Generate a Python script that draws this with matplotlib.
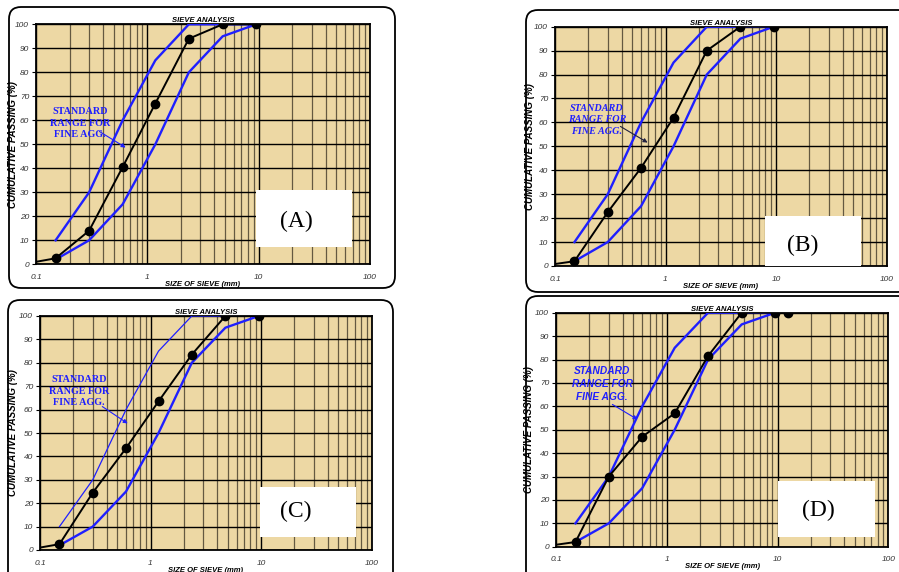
import matplotlib
matplotlib.use('Agg')
import matplotlib.pyplot as plt
from matplotlib.patches import FancyBboxPatch, Rectangle
from matplotlib.ticker import LogLocator, NullFormatter, FixedLocator, FixedFormatter

W, H = 899, 572

# sieve sizes (mm) and cumulative passing (%)
sieve = [0.075, 0.15, 0.3, 0.6, 1.18, 2.36, 4.75, 9.5]
passing_a = [0, 2.5, 14, 40.5, 67, 94, 100, 100]
passing_b = [0, 2, 22.5, 41, 62, 90, 100, 100]
passing_c = [0, 2.5, 24.5, 43.5, 63.5, 83.5, 100, 100]
sieve_d = [0.075, 0.15, 0.3, 0.6, 1.18, 2.36, 4.75, 9.5, 12.5]
passing_d = [0, 2, 30, 47, 57, 81.5, 100, 100, 100]

# standard range for fine aggregate
limit_sieve = [0.15, 0.3, 0.6, 1.18, 2.36, 4.75, 9.5]
upper_limit = [10, 30, 60, 85, 100, 100, 100]
lower_limit = [2, 10, 25, 50, 80, 95, 100]

x_ticks = [0.1, 1, 10, 100]
x_tick_labels = ['0.1', '1', '10', '100']
y_ticks = list(range(0, 101, 10))

BG = '#edd8a4'
BLUE = '#1f1fff'

panels = [
    dict(name='(A)', frame=(9, 7, 395, 288), rect=(36, 24.3, 370, 264.3),
         x=sieve, y=passing_a, box=(256, 190, 352, 247), label_xy=(296, 221),
         note_xy=(80, 123), arrow=((97, 130), (128, 149)), note_font='Liberation Serif',
         note_style='normal', arrow_color=BLUE, upper_lw=1.7, ylab_x=18),
    dict(name='(B)', frame=(526, 10, 910, 292), rect=(555, 26.7, 886.7, 266),
         x=sieve, y=passing_b, box=(765, 216, 861, 266), label_xy=(803, 245),
         note_xy=(597, 120), arrow=((618, 125), (650, 144)), note_font='Liberation Serif',
         note_style='italic', arrow_color='#202040', upper_lw=1.7, ylab_x=535),
    dict(name='(C)', frame=(8, 300, 393, 590), rect=(40, 316, 371.7, 550),
         x=sieve, y=passing_c, box=(260, 487, 356, 537), label_xy=(296, 511),
         note_xy=(79, 391), arrow=((100, 405), (130, 425)), note_font='Liberation Serif',
         note_style='normal', arrow_color=BLUE, upper_lw=0.9, ylab_x=18),
    dict(name='(D)', frame=(526, 296, 910, 590), rect=(556, 312.7, 888.3, 546.7),
         x=sieve_d, y=passing_d, box=(778, 481, 875, 537), label_xy=(818, 510),
         note_xy=(602, 384), arrow=((610, 403), (640, 421)), note_font='Liberation Sans',
         note_style='italic', arrow_color=BLUE, upper_lw=1.7, ylab_x=534),
]

fig = plt.figure(figsize=(W / 100, H / 100), dpi=100)
fig.patch.set_facecolor('white')

# page layer for the rounded frames
bg = fig.add_axes([0, 0, 1, 1])
bg.set_xlim(0, W)
bg.set_ylim(H, 0)
bg.axis('off')

for p in panels:
    fl, ft, fr, fb = p['frame']
    bg.add_patch(FancyBboxPatch((fl, ft), fr - fl, fb - ft,
                                boxstyle='round,pad=0,rounding_size=12',
                                fc='white', ec='black', lw=1.3))

for p in panels:
    l, t, r, b = p['rect']
    ax = fig.add_axes([l / W, 1 - b / H, (r - l) / W, (b - t) / H])

    def frac(x, y):
        return ((x - l) / (r - l), (b - y) / (b - t))

    ax.set_facecolor(BG)
    ax.set_xscale('log')
    ax.set_xlim(0.1, 100)
    ax.set_ylim(0, 100)

    ax.xaxis.set_major_locator(FixedLocator(x_ticks))
    ax.xaxis.set_major_formatter(FixedFormatter(x_tick_labels))
    ax.xaxis.set_minor_locator(LogLocator(base=10, subs=range(2, 10)))
    ax.xaxis.set_minor_formatter(NullFormatter())
    ax.set_yticks(y_ticks)

    ax.grid(which='major', axis='both', color='black', lw=1.0)
    ax.grid(which='minor', axis='x', color='#2a2418', lw=0.9, alpha=0.7)

    ax.tick_params(axis='x', which='both', length=0, pad=7, labelsize=6,
                   labelcolor='#333333')
    ax.tick_params(axis='y', which='major', length=3, width=0.8, pad=2,
                   labelsize=6, labelcolor='#333333')
    for lab in ax.get_xticklabels() + ax.get_yticklabels():
        lab.set_fontstyle('italic')
        lab.set_family('Liberation Sans')
    for sp in ax.spines.values():
        sp.set_linewidth(1.3)
        sp.set_color('black')

    ax.plot(limit_sieve, upper_limit, color=BLUE, lw=p['upper_lw'], zorder=3)
    ax.plot(limit_sieve, lower_limit, color=BLUE, lw=1.7, zorder=3)
    ax.plot(p['x'], p['y'], color='black', lw=1.4, marker='o', ms=6,
            zorder=4)

    ax.set_title('SIEVE ANALYSIS', fontsize=5.5, fontweight='bold',
                 fontstyle='italic', family='Liberation Sans', pad=1.5)
    ax.set_xlabel('SIZE OF SIEVE (mm)', fontsize=5.5, fontweight='bold',
                  fontstyle='italic', family='Liberation Sans', labelpad=0)
    ax.set_ylabel('CUMULATIVE PASSING (%)', fontsize=7, fontweight='bold',
                  fontstyle='italic', family='Liberation Sans')
    ax.yaxis.set_label_coords((p['ylab_x'] - l) / (r - l), 0.5)

    # note with arrow
    ax.text(*frac(*p['note_xy']), 'STANDARD\nRANGE FOR\nFINE AGG.',
            transform=ax.transAxes, ha='center', va='center', color=BLUE,
            fontsize=7.3, fontweight='bold', fontstyle=p['note_style'],
            family=p['note_font'], linespacing=1.4, zorder=5)
    (sx, sy), (ex, ey) = p['arrow']
    ax.annotate('', xy=frac(ex, ey), xytext=frac(sx, sy),
                xycoords='axes fraction', textcoords='axes fraction',
                arrowprops=dict(arrowstyle='-|>', color=p['arrow_color'],
                                lw=0.8, mutation_scale=6), zorder=5)

    # white label box
    bl, bt, br, bb = p['box']
    x0, y0 = frac(bl, bb)
    x1, y1 = frac(br, bt)
    ax.add_patch(Rectangle((x0, y0), x1 - x0, y1 - y0, transform=ax.transAxes,
                           fc='white', ec='none', zorder=6, clip_on=False))
    ax.text(*frac(*p['label_xy']), p['name'], transform=ax.transAxes,
            ha='center', va='center', fontsize=17, family='Liberation Serif',
            zorder=7)

fig.savefig('out.png', dpi=100)
